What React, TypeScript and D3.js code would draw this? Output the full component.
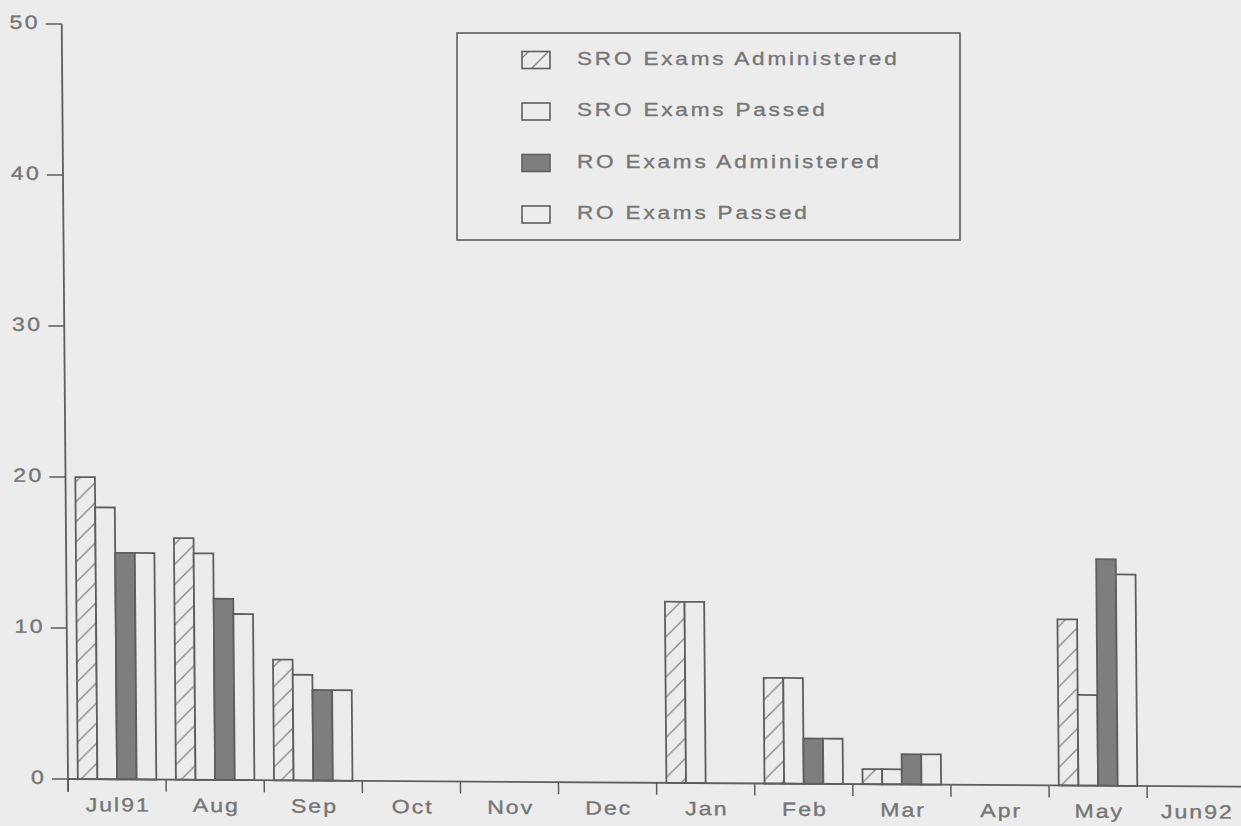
import React from "react";
import * as d3 from "d3";

const months = ["Jul91", "Aug", "Sep", "Oct", "Nov", "Dec", "Jan", "Feb", "Mar", "Apr", "May", "Jun92"];
const seriesNames = ["SRO Exams Administered", "SRO Exams Passed", "RO Exams Administered", "RO Exams Passed"];
const sroAdministered = [20, 16, 8, 0, 0, 0, 12, 7, 1, 0, 11, 0];
const sroPassed = [18, 15, 7, 0, 0, 0, 12, 7, 1, 0, 6, 0];
const roAdministered = [15, 12, 6, 0, 0, 0, 0, 3, 2, 0, 15, 0];
const roPassed = [15, 11, 6, 0, 0, 0, 0, 3, 2, 0, 14, 0];
const yTicks = [0, 10, 20, 30, 40, 50];

const W = 1241;
const H = 826;
const ox = 68;
const oy = 779;
const monthW = 98.1;
// slight scan skew
const skewB = 0.0065;
const skewC = 0.0083;

const BG = "#ececec";
const LINE = "#5e5e5e";
const TEXT = "#767676";
const DARK = "#7e7e7e";
const FONT = "'Liberation Sans', Arial, Helvetica, sans-serif";
const STRETCH = 1.22;

function Label({
  x,
  y,
  anchor,
  size,
  spacing,
  children,
}: {
  x: number;
  y: number;
  anchor: "start" | "middle" | "end";
  size: number;
  spacing: number;
  children: React.ReactNode;
}) {
  return (
    <g transform={`translate(${x},${y}) scale(${STRETCH},1)`}>
      <text
        x={0}
        y={0}
        textAnchor={anchor}
        dominantBaseline="middle"
        fontFamily={FONT}
        fontSize={size}
        letterSpacing={spacing}
        fill={TEXT}
        stroke={TEXT}
        strokeWidth={0.35}
      >
        {children}
      </text>
    </g>
  );
}

export default function App() {
  const seriesValues = [sroAdministered, sroPassed, roAdministered, roPassed];
  const x0 = d3.scaleBand<string>().domain(months).range([ox, ox + months.length * monthW]).padding(0);
  const x1 = d3
    .scaleBand<string>()
    .domain(seriesNames)
    .range([0, x0.bandwidth()])
    .paddingInner(0)
    .paddingOuter(0.5);
  const y = d3.scaleLinear().domain([0, 50]).range([oy, 24]);

  const fills = ["url(#hatch)", BG, DARK, BG];

  const matrix = `matrix(1,${skewB},${skewC},1,${-skewC * oy},${-skewB * ox})`;

  return (
    <svg
      width={W}
      height={H}
      style={{ position: "absolute", left: 0, top: 0, display: "block" }}
      xmlns="http://www.w3.org/2000/svg"
    >
      <defs>
        <pattern id="hatch" patternUnits="userSpaceOnUse" width={20} height={20}>
          <rect width={20} height={20} fill={BG} />
          <path d="M-5,5 L5,-5 M0,20 L20,0 M15,25 L25,15" stroke="#858585" strokeWidth={1.3} />
        </pattern>
      </defs>
      <rect x={0} y={0} width={W} height={H} fill={BG} />
      <g transform={matrix}>
        {/* bars */}
        {months.map((m, i) => (
          <g key={m}>
            {seriesNames.map((s, j) => {
              const v = seriesValues[j][i];
              if (v <= 0) return null;
              return (
                <rect
                  key={s}
                  x={(x0(m) as number) + (x1(s) as number)}
                  y={y(v)}
                  width={x1.bandwidth()}
                  height={y(0) - y(v)}
                  fill={fills[j]}
                  stroke={LINE}
                  strokeWidth={1.8}
                />
              );
            })}
          </g>
        ))}

        {/* y axis */}
        <line x1={ox} x2={ox} y1={y(0) + 13} y2={y(50)} stroke={LINE} strokeWidth={1.8} />
        {yTicks.map((t) => (
          <g key={t}>
            <line x1={ox - 16} x2={ox} y1={y(t)} y2={y(t)} stroke={LINE} strokeWidth={1.5} />
            <Label x={ox - 22} y={y(t)} anchor="end" size={19} spacing={1.8}>
              {t}
            </Label>
          </g>
        ))}

        {/* x axis */}
        <line x1={ox} x2={W + 10} y1={y(0)} y2={y(0)} stroke={LINE} strokeWidth={1.8} />
        {months.concat(["end"]).map((m, i) => {
          const xx = ox + i * monthW;
          return <line key={m} x1={xx} x2={xx} y1={y(0)} y2={y(0) + 12} stroke={LINE} strokeWidth={1.5} />;
        })}
        {months.map((m) => (
          <Label key={m} x={(x0(m) as number) + x0.bandwidth() / 2 + 1} y={y(0) + 27} anchor="middle" size={19} spacing={1.6}>
            {m}
          </Label>
        ))}
      </g>

      {/* legend */}
      <rect x={457} y={33} width={503} height={207} fill={BG} stroke={LINE} strokeWidth={1.6} />
      {seriesNames.map((s, j) => {
        const cy = 60 + j * 51.5;
        return (
          <g key={s}>
            <rect x={522} y={cy - 8.5} width={28} height={17} fill={fills[j]} stroke={LINE} strokeWidth={1.6} />
            <Label x={577} y={cy} anchor="start" size={18.5} spacing={2.3}>
              {s}
            </Label>
          </g>
        );
      })}
    </svg>
  );
}
